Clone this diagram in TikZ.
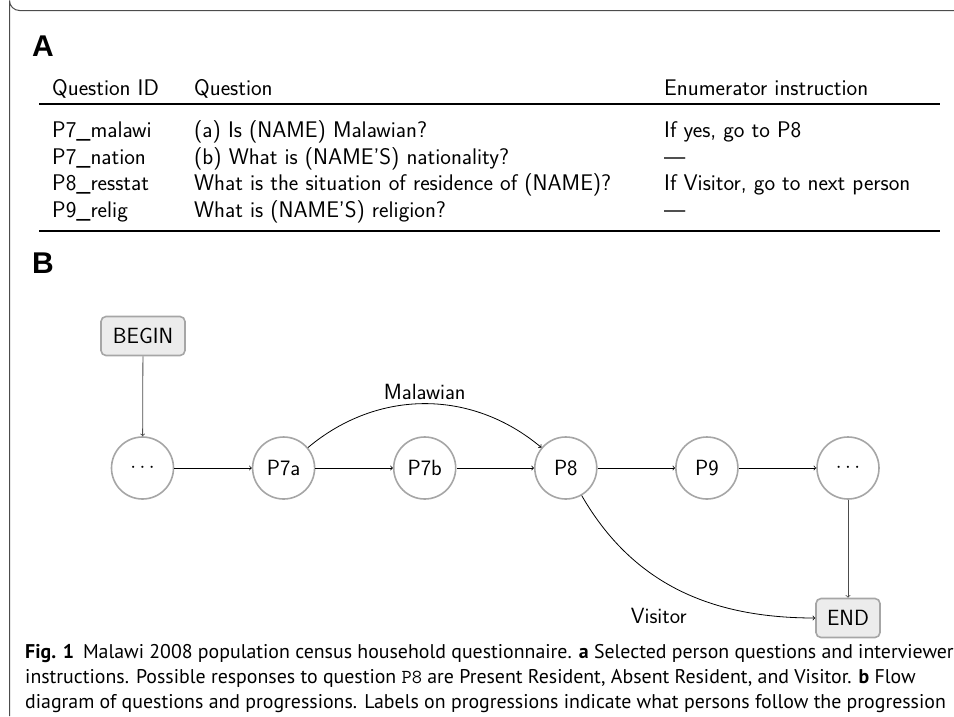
\documentclass[tikz,border=0pt]{standalone}
\usepackage{fontspec}
\newfontfamily\capfont{PT Sans}
\newfontfamily\headfont{Liberation Sans}
\begin{document}
\begin{tikzpicture}[x=1pt,y=-1pt,
  tabtext/.style={anchor=base west,inner sep=0pt,font=\sffamily\fontsize{22.6}{27}\selectfont},
  panel/.style={anchor=base west,inner sep=0pt,font=\headfont\bfseries\fontsize{30}{32}\selectfont},
  qnode/.style={circle,draw=gray!70,line width=1.6pt,fill=white,minimum size=62pt,inner sep=0pt,font=\sffamily\fontsize{22}{24}\selectfont},
  termbox/.style={rounded corners=5pt,draw=gray!70,line width=1.6pt,fill=gray!15,minimum height=39pt,inner xsep=7pt,font=\sffamily\fontsize{22}{24}\selectfont},
  flow/.style={->,line width=0.8pt,black},
  vflow/.style={->,line width=0.8pt,black!70},
  elabel/.style={font=\sffamily\fontsize{22}{24}\selectfont,inner sep=4pt}
]
\useasboundingbox (0,0) rectangle (954,716);
% frame
\draw[line width=1pt,black!70] (954,10.5) -- (19.5,10.5) arc[start angle=90,end angle=180,radius=10] -- (9.5,716);
% panel A
\node[panel] (lblA) at (32,56) {A};
\node[tabtext] (h1) at (52,95) {Question ID};
\node[tabtext] (h2) at (194,95) {Question};
\node[tabtext] (h3) at (664,95) {Enumerator instruction};
\draw[line width=1.1pt] (39,104) -- (940,104);
\node[tabtext] (r1a) at (52,137) {P7\_malawi};
\node[tabtext] (r1b) at (194,137) {(a) Is (NAME) Malawian?};
\node[tabtext] (r1c) at (664,137) {If yes, go to P8};
\node[tabtext] (r2a) at (52,164) {P7\_nation};
\node[tabtext] (r2b) at (194,164) {(b) What is (NAME'S) nationality?};
\node[tabtext] (r2c) at (664,164) {---};
\node[tabtext] (r3a) at (52,190) {P8\_resstat};
\node[tabtext] (r3b) at (194,190) {What is the situation of residence of (NAME)?};
\node[tabtext] (r3c) at (664,190) {If Visitor, go to next person};
\node[tabtext] (r4a) at (52,217) {P9\_relig};
\node[tabtext] (r4b) at (194,217) {What is (NAME'S) religion?};
\node[tabtext] (r4c) at (664,217) {---};
\draw[line width=1.8pt] (39,231) -- (940,231);
% panel B
\node[panel] (lblB) at (32,273) {B};
\node[termbox,minimum width=84pt] (begin) at (143,336) {BEGIN};
\node[qnode] (d0) at (142.5,468) {$\cdots$};
\node[qnode] (p7a) at (283.6,468) {P7a};
\node[qnode] (p7b) at (424.7,468) {P7b};
\node[qnode] (p8) at (565.8,468) {P8};
\node[qnode] (p9) at (706.9,468) {P9};
\node[qnode] (d1) at (848,468) {$\cdots$};
\node[termbox,minimum width=64pt] (end) at (848,618) {END};
\draw[vflow] (begin) -- (d0);
\draw[flow] (d0) -- (p7a);
\draw[flow] (p7a) -- (p7b);
\draw[flow] (p7b) -- (p8);
\draw[flow] (p8) -- (p9);
\draw[flow] (p9) -- (d1);
\draw[vflow] (d1) -- (end);
\draw[flow] (p7a) to[out=40,in=140] node[elabel,above,pos=0.5] {Malawian} (p8);
\draw[flow] (p8) to[out=-60,in=180] node[elabel,pos=0.55,anchor=north east,yshift=-8pt] {Visitor} (end);
% caption
\node[anchor=base west,inner sep=0pt,align=left,font=\capfont\fontsize{19.85}{25}\selectfont] (cap) at (25,708)
{\textbf{Fig. 1}\hspace{0.45em}Malawi 2008 population census household questionnaire. \textbf{a} Selected person questions and interviewer\\
instructions. Possible responses to question \texttt{P8} are Present Resident, Absent Resident, and Visitor. \textbf{b} Flow\\
diagram of questions and progressions. Labels on progressions indicate what persons follow the progression};
\end{tikzpicture}
\end{document}
